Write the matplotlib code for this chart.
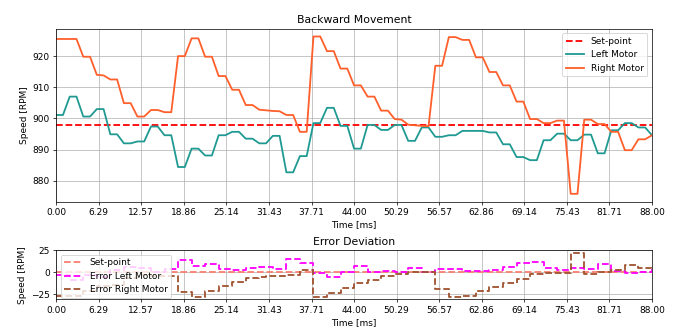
import matplotlib
matplotlib.use("Agg")
import matplotlib.pyplot as plt
import numpy as np

# time axis [ms], one sample per ms
time_ms = np.arange(0, 89)
set_point = 898

left_motor = [901.1, 901.1, 907.0, 907.0, 900.6, 900.6, 903.0, 903.0, 894.9, 894.9,
              892.0, 892.0, 892.6, 892.6, 897.4, 897.4, 894.6, 894.6, 884.4, 884.4,
              890.3, 890.3, 888.1, 888.1, 894.6, 894.6, 895.7, 895.7, 893.5, 893.5,
              892.0, 892.0, 894.4, 894.4, 882.7, 882.7, 887.9, 887.9, 898.5, 898.5,
              903.4, 903.4, 897.6, 897.6, 890.3, 890.3, 897.9, 897.9, 896.3, 896.3,
              897.9, 897.9, 892.8, 892.8, 897.1, 897.1, 894.1, 894.1, 894.6, 894.6,
              896.0, 896.0, 896.0, 896.0, 895.5, 895.5, 891.7, 891.7, 887.6, 887.6,
              886.6, 886.6, 893.0, 893.0, 895.1, 895.1, 893.0, 893.0, 894.8, 894.8,
              888.8, 888.8, 896.2, 896.2, 898.5, 898.5, 897.1, 897.1, 894.6]

right_motor = [925.5, 925.5, 925.5, 925.5, 919.8, 919.8, 914.0, 913.8, 912.5, 912.5,
               904.9, 904.9, 900.6, 900.6, 902.7, 902.7, 902.0, 902.0, 920.0, 920.0,
               925.7, 925.7, 919.8, 919.8, 913.6, 913.6, 909.2, 909.2, 904.3, 904.3,
               902.8, 902.6, 902.4, 902.3, 901.1, 901.1, 895.7, 895.7, 926.3, 926.3,
               921.6, 921.6, 916.0, 916.0, 910.6, 910.6, 907.0, 907.0, 902.5, 902.5,
               899.8, 899.6, 898.0, 897.8, 897.6, 897.5, 916.9, 916.9, 926.1, 926.1,
               925.2, 925.2, 919.6, 919.6, 914.9, 914.9, 910.6, 910.6, 905.4, 905.4,
               899.8, 899.8, 898.5, 898.5, 899.3, 899.3, 875.8, 875.8, 899.6, 899.6,
               898.2, 898.2, 895.7, 895.7, 889.8, 889.8, 893.3, 893.3, 894.6]

# deviation from the set-point, as drawn in the lower panel
err_left = set_point - np.array(left_motor)
err_right = set_point - np.array(right_motor)

x_ticks = np.linspace(0, 88, 15)

fig = plt.figure(figsize=(677 / 65, 329 / 65), dpi=65)
ax1 = fig.add_axes([0.083, 0.387, 0.880, 0.526])
ax2 = fig.add_axes([0.083, 0.090, 0.880, 0.150])

ax1.plot(time_ms, np.full(len(time_ms), set_point), 'r--', lw=2, label='Set-point')
ax1.plot(time_ms, left_motor, color='#1f9a92', lw=2, label='Left Motor')
ax1.plot(time_ms, right_motor, color='#ff5f2a', lw=2, label='Right Motor')
ax1.set_title('Backward Movement')
ax1.set_xlabel('Time [ms]')
ax1.set_ylabel('Speed [RPM]')
ax1.set_xlim(0, 88)
ax1.set_xticks(x_ticks)
ax1.set_xticklabels([f'{t:.2f}' for t in x_ticks])
ax1.grid(True)
ax1.legend(loc='upper right')

ax2.plot(time_ms, np.zeros(len(time_ms)), '--', color='salmon', lw=2, label='Set-point')
ax2.plot(time_ms, err_left, '--', color='magenta', lw=2, drawstyle='steps-post',
         label='Error Left Motor')
ax2.plot(time_ms, err_right, '--', color='sienna', lw=2, drawstyle='steps-post',
         label='Error Right Motor')
ax2.set_title('Error Deviation')
ax2.set_xlabel('Time [ms]')
ax2.set_ylabel('Speed [RPM]')
ax2.set_xlim(0, 88)
ax2.set_ylim(-30.8, 25.3)
ax2.set_yticks([-25, 0, 25])
ax2.set_xticks(x_ticks)
ax2.set_xticklabels([f'{t:.2f}' for t in x_ticks])
ax2.grid(True)
ax2.legend(loc='upper left')

fig.savefig('out.png', dpi=65)
